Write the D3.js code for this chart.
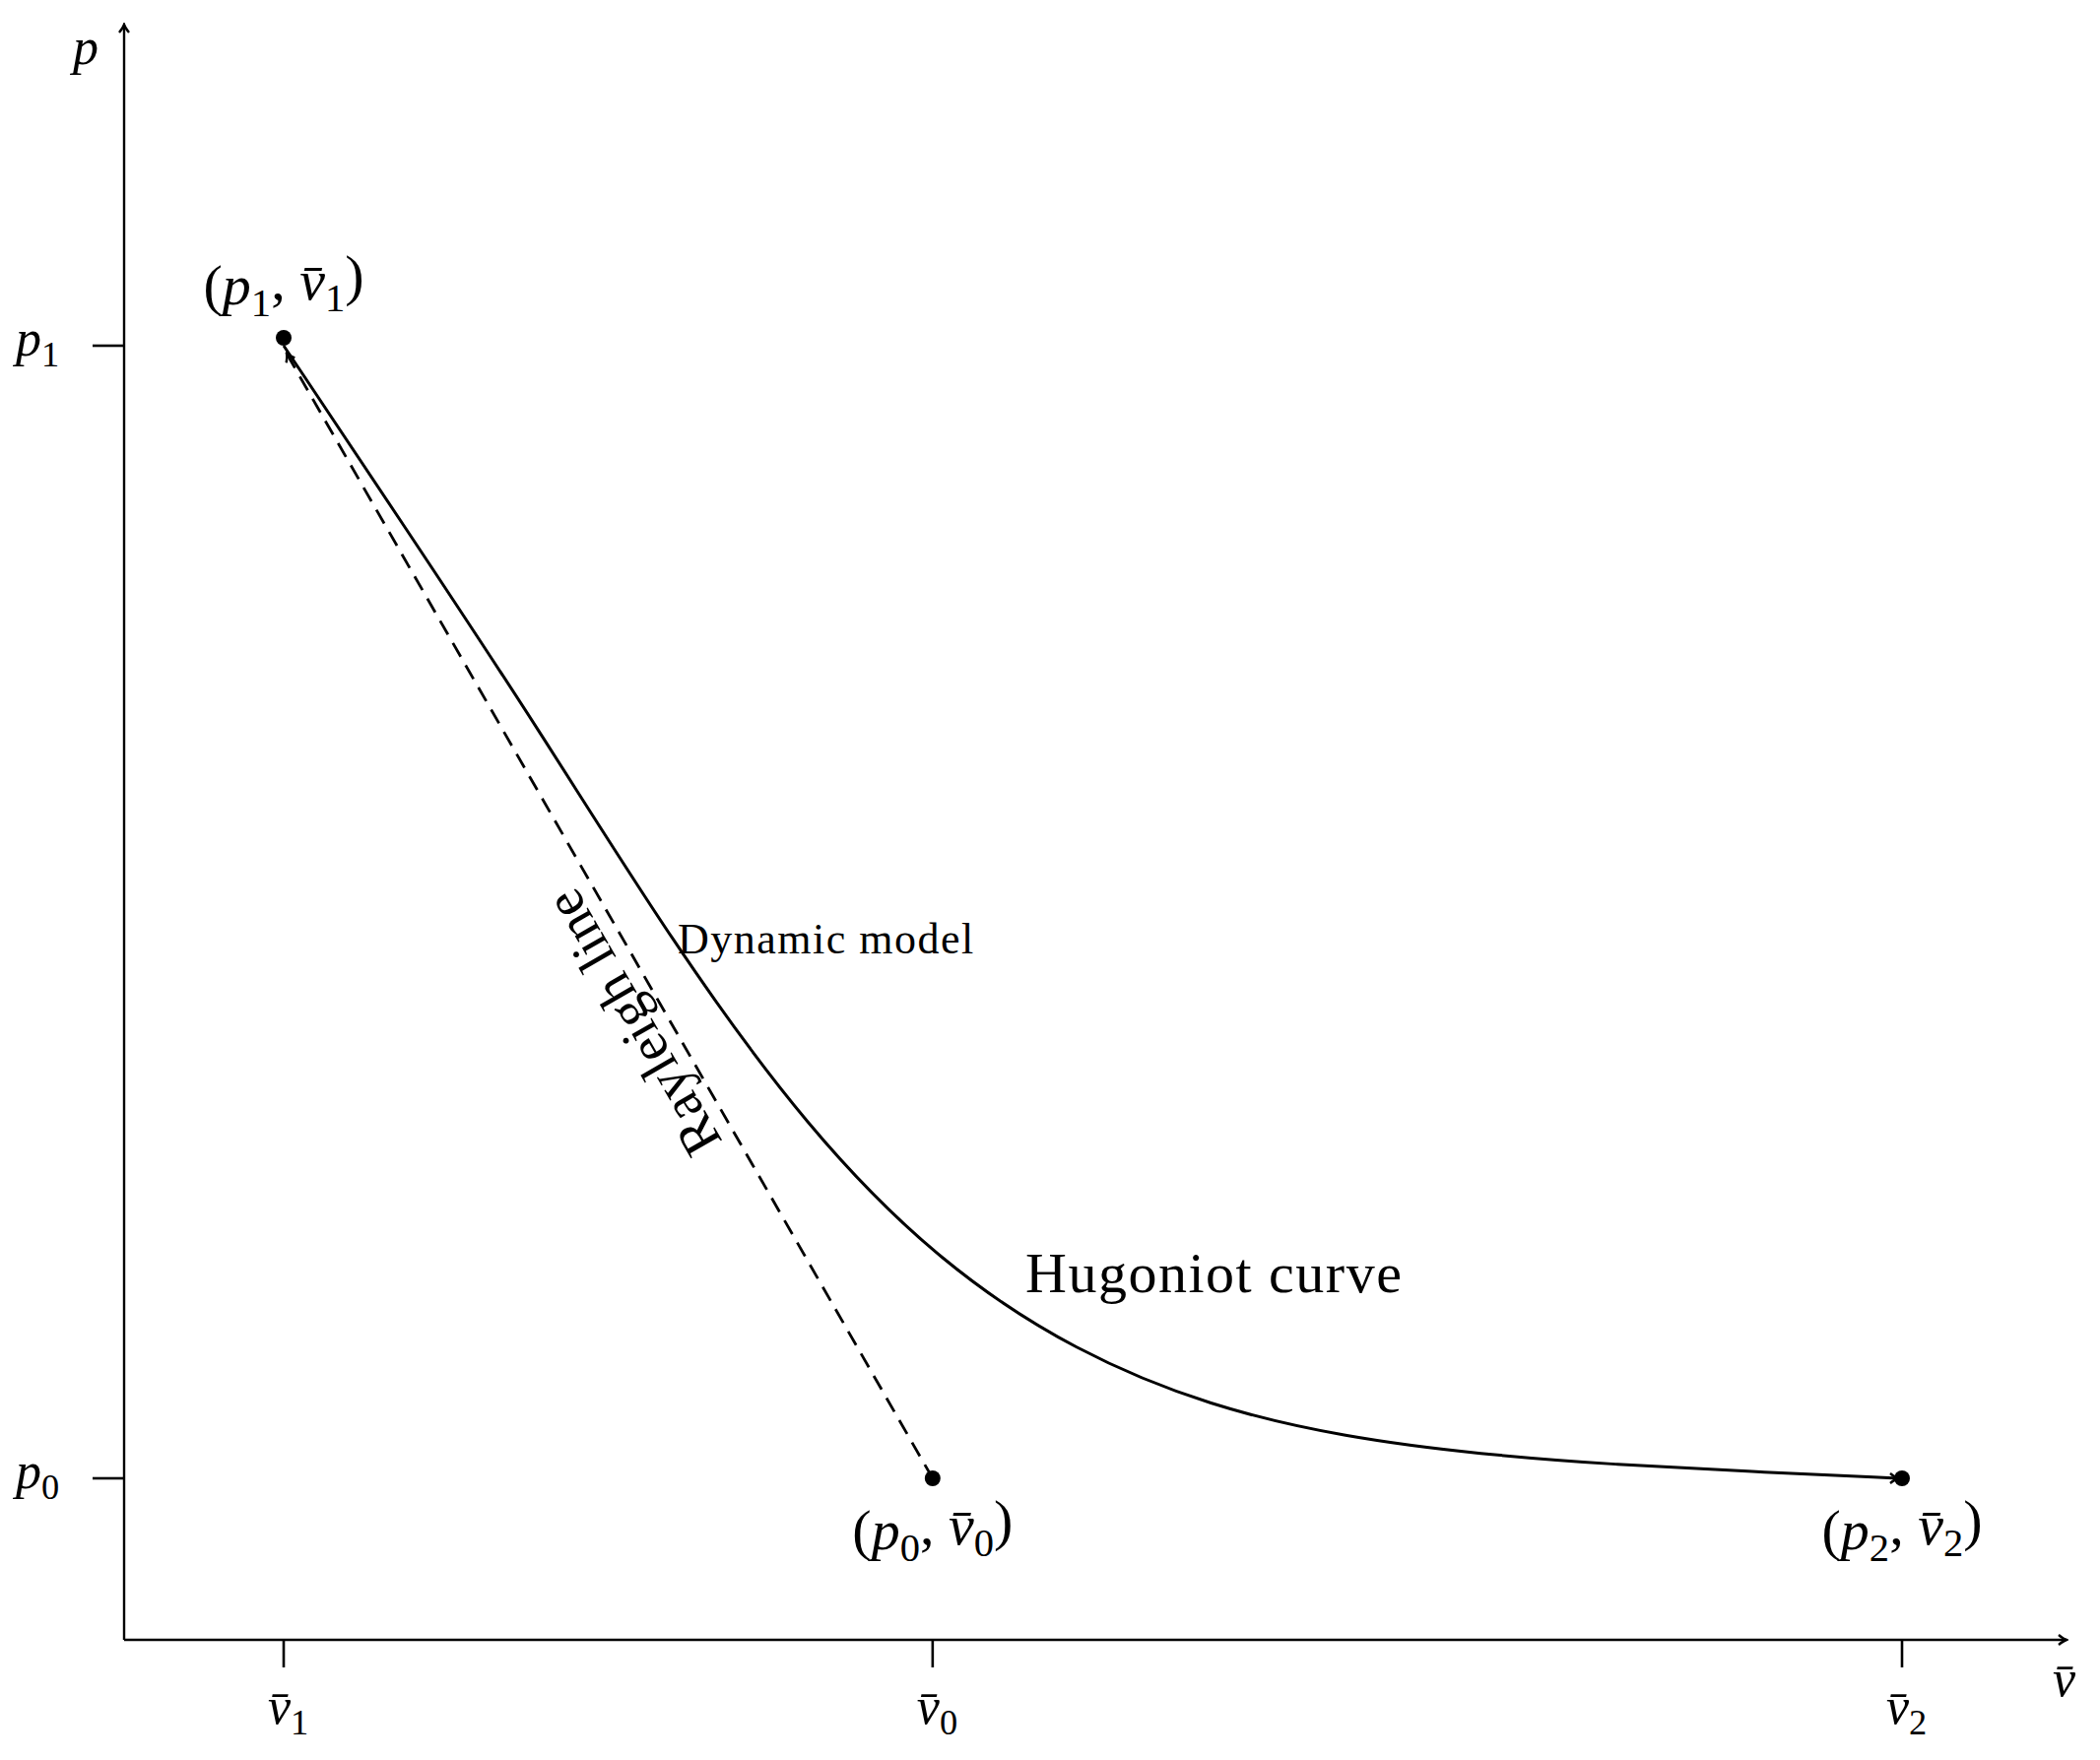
<!DOCTYPE html>
<html><head><meta charset="utf-8">
<script src="https://cdn.jsdelivr.net/npm/d3@7"></script>
<style>body{margin:0;background:#fff}text{font-family:"Liberation Serif","DejaVu Serif",serif;fill:#000}</style>
</head><body><svg id="c" width="2132" height="1787"></svg>
<script>
// normalized positions: v1 = 0, v2 = 1 ; p0 = 0, p1 = 1
var vTicks = [{v: 0, sub: "1"}, {v: 0.401, sub: "0"}, {v: 1, sub: "2"}];
var pTicks = [{p: 1, sub: "1"}, {p: 0, sub: "0"}];
var hugV = [0, 0, 0.074, 0.157, 0.240, 0.324, 0.407, 0.490, 0.573, 0.656, 0.740, 0.823, 0.906, 1, 1];
var hugP = [1, 1, 0.842, 0.663, 0.473, 0.307, 0.188, 0.111, 0.063, 0.036, 0.021, 0.012, 0.006, 0, 0];
var states = [{v: 0, p: 1, sub: "1", dy: -42}, {v: 0.401, p: 0, sub: "0", dy: 72}, {v: 1, p: 0, sub: "2", dy: 72}];

var svg = d3.select("#c");
var x = d3.scaleLinear().domain([0, 1]).range([288, 1931]);
var y = d3.scaleLinear().domain([0, 1]).range([1501, 351]);
var ox = 126, oy = 1665;

var defs = svg.append("defs");
defs.append("marker").attr("id", "arr").attr("viewBox", "-10 -6 12 12")
    .attr("markerWidth", 12).attr("markerHeight", 12).attr("markerUnits", "userSpaceOnUse")
    .attr("orient", "auto")
    .append("path").attr("d", "M-8,-5 Q-3,-1 0,0 Q-3,1 -8,5")
    .attr("fill", "none").attr("stroke", "#000").attr("stroke-width", 2.4);

// axes
svg.append("line").attr("x1", ox).attr("y1", oy).attr("x2", ox).attr("y2", 25)
    .attr("stroke", "#000").attr("stroke-width", 2.4).attr("marker-end", "url(#arr)");
svg.append("line").attr("x1", ox).attr("y1", oy).attr("x2", 2098).attr("y2", oy)
    .attr("stroke", "#000").attr("stroke-width", 2.4).attr("marker-end", "url(#arr)");

function mathLabel(sel, bar, base, sub) {
    var t = sel.append("text").attr("font-style", "italic");
    t.append("tspan").text(bar ? "v\u0304" : base);
    t.append("tspan").attr("font-size", "0.7em").attr("font-style", "normal").attr("dy", "0.3em").text(sub);
    return t;
}

vTicks.forEach(function(d) {
    svg.append("line").attr("x1", x(d.v)).attr("x2", x(d.v)).attr("y1", oy).attr("y2", oy + 28)
        .attr("stroke", "#000").attr("stroke-width", 2.6);
    mathLabel(svg, true, "v", d.sub).attr("x", x(d.v) - 16).attr("y", oy + 85).attr("font-size", 52);
});
pTicks.forEach(function(d) {
    svg.append("line").attr("x1", ox - 32).attr("x2", ox).attr("y1", y(d.p)).attr("y2", y(d.p))
        .attr("stroke", "#000").attr("stroke-width", 2.6);
    mathLabel(svg, false, "p", d.sub).attr("x", 16).attr("y", y(d.p) + 10).attr("font-size", 52);
});
svg.append("text").attr("x", 74).attr("y", 65).attr("font-size", 52).attr("font-style", "italic").text("p");
svg.append("text").attr("x", 2084).attr("y", 1722).attr("font-size", 52).attr("font-style", "italic").text("v\u0304");

// Rayleigh line
svg.append("line").attr("x1", x(0.401)).attr("y1", y(0)).attr("x2", x(0) + 3).attr("y2", y(1) + 8)
    .attr("stroke", "#000").attr("stroke-width", 2.8).attr("stroke-dasharray", "16,10")
    .attr("marker-end", "url(#arr)");

// Hugoniot curve
var pts = hugV.map(function(v, i) { return [x(v), y(hugP[i])]; });
pts[pts.length - 1][0] -= 4;
pts[pts.length - 2][0] -= 4;
svg.append("path").attr("d", d3.line().curve(d3.curveBasis)(pts))
    .attr("fill", "none").attr("stroke", "#000").attr("stroke-width", 3)
    .attr("marker-end", "url(#arr)");

states.forEach(function(d) {
    svg.append("circle").attr("cx", x(d.v)).attr("cy", y(d.p) - (d.p ? 8 : 0)).attr("r", 8);
    var t = svg.append("text").attr("x", x(d.v)).attr("y", y(d.p) + d.dy)
        .attr("text-anchor", "middle").attr("font-size", 58).attr("font-style", "italic");
    t.append("tspan").attr("font-style", "normal").text("(");
    t.append("tspan").text("p");
    t.append("tspan").attr("font-size", "0.7em").attr("font-style", "normal").attr("dy", "0.3em").text(d.sub);
    t.append("tspan").attr("dy", "-0.3em").attr("font-style", "normal").text(", ");
    t.append("tspan").text("v\u0304");
    t.append("tspan").attr("font-size", "0.7em").attr("font-style", "normal").attr("dy", "0.3em").text(d.sub);
    t.append("tspan").attr("dy", "-0.3em").attr("font-style", "normal").text(")");
});

svg.append("text").attr("x", 688).attr("y", 968).attr("font-size", 44).attr("letter-spacing", 1.5).text("Dynamic model");
svg.append("text").attr("x", 1041).attr("y", 1312).attr("font-size", 58).attr("letter-spacing", 1.5).text("Hugoniot curve");
svg.append("text").attr("transform", "translate(642,1039) rotate(-120)")
    .attr("text-anchor", "middle").attr("dy", "0.35em").attr("font-size", 56).text("Rayleigh line");
</script></body></html>
